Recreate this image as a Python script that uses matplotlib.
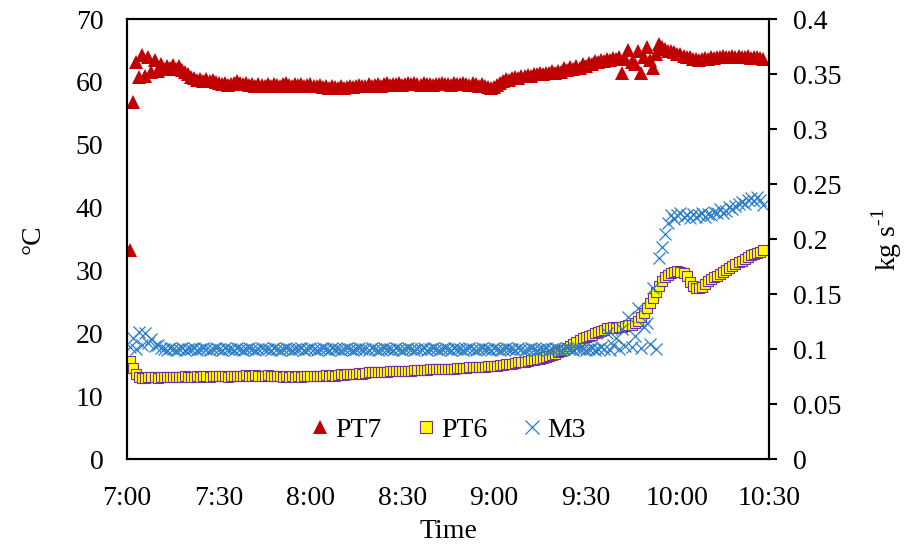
import numpy as np
import matplotlib
matplotlib.use('Agg')
from matplotlib import pyplot as plt

plt.rcParams['font.family'] = ['Liberation Serif', 'DejaVu Serif']
plt.rcParams['mathtext.fontset'] = 'custom'
plt.rcParams['mathtext.rm'] = 'Liberation Serif'

# Data: one reading per minute, starting 7:01
pt7 = [33.2, 56.8, 63.2, 60.8, 64.3, 61.0, 64.0, 61.6, 63.5, 61.8,
       62.8, 62.0, 62.6, 62.2, 62.7, 62.1, 62.5, 61.9, 61.6, 61.2,
       60.8, 60.6, 60.3, 60.5, 60.2, 60.4, 60.1, 60.3, 60.0, 59.8,
       59.6, 59.9, 59.5, 59.7, 59.9, 60.2, 59.9, 59.6, 59.8, 59.5,
       59.6, 59.4, 59.7, 59.5, 59.3, 59.6, 59.4, 59.7, 59.5, 59.3,
       59.6, 59.8, 59.5, 59.4, 59.6, 59.5, 59.7, 59.4, 59.5, 59.6,
       59.4, 59.3, 59.5, 59.2, 59.4, 59.1, 59.3, 59.2, 59.0, 59.3,
       59.1, 59.2, 59.4, 59.2, 59.3, 59.5, 59.3, 59.4, 59.6, 59.4,
       59.5, 59.7, 59.4, 59.6, 59.8, 59.5, 59.7, 59.6, 59.8, 59.5,
       59.7, 59.9, 59.6, 59.8, 59.7, 59.5, 59.8, 59.6, 59.7, 59.5,
       59.7, 59.6, 59.8, 59.6, 59.7, 59.5, 59.8, 59.7, 59.6, 59.9,
       59.7, 59.5, 59.8, 59.6, 59.4, 59.6, 59.3, 59.2, 59.0, 59.2,
       59.5, 59.9, 60.2, 60.4, 60.3, 60.6, 60.8, 60.7, 61.0, 60.9,
       61.1, 61.0, 61.3, 61.2, 61.4, 61.3, 61.5, 61.4, 61.7, 61.5,
       61.8, 61.6, 62.2, 61.9, 62.4, 62.1, 62.6, 62.3, 62.9, 62.6,
       63.0, 62.8, 63.3, 63.1, 63.5, 63.3, 63.7, 63.5, 63.8, 63.6,
       64.0, 61.5, 63.6, 65.1, 63.2, 62.8, 65.0, 61.4, 64.0, 65.5,
       63.5, 62.3, 64.5, 66.0, 65.5, 65.3, 65.0, 64.9, 64.7, 64.5,
       64.4, 64.2, 64.0, 63.9, 63.7, 63.6, 63.5, 63.6, 63.8, 63.7,
       63.9, 63.8, 64.0, 63.9, 64.1, 64.0, 63.9, 64.1, 64.0, 64.2,
       64.0, 63.9, 64.1, 63.8, 63.9, 64.0, 63.8, 63.6]

pt6 = [15.6, 14.5, 13.5, 13.0, 12.9, 12.9, 13.0, 13.1, 13.0, 12.9,
       13.0, 13.1, 13.0, 13.1, 13.0, 13.1, 13.0, 13.1, 13.2, 13.1,
       13.0, 13.1, 13.2, 13.1, 13.2, 13.2, 13.1, 13.2, 13.3, 13.2,
       13.3, 13.2, 13.1, 13.2, 13.3, 13.3, 13.2, 13.3, 13.4, 13.3,
       13.3, 13.4, 13.3, 13.2, 13.3, 13.4, 13.3, 13.2, 13.3, 13.2,
       13.1, 13.2, 13.1, 13.2, 13.1, 13.2, 13.1, 13.2, 13.3, 13.2,
       13.2, 13.3, 13.2, 13.3, 13.4, 13.3, 13.4, 13.3, 13.4, 13.5,
       13.4, 13.5, 13.6, 13.5, 13.6, 13.7, 13.6, 13.7, 13.8, 13.9,
       13.8, 13.8, 13.9, 13.9, 13.9, 14.0, 14.0, 14.0, 14.0, 14.1,
       14.1, 14.1, 14.1, 14.2, 14.2, 14.2, 14.2, 14.2, 14.3, 14.3,
       14.3, 14.3, 14.3, 14.4, 14.4, 14.4, 14.4, 14.5, 14.5, 14.5,
       14.5, 14.6, 14.6, 14.6, 14.7, 14.7, 14.7, 14.8, 14.8, 14.9,
       14.9, 15.0, 15.0, 15.1, 15.2, 15.2, 15.3, 15.4, 15.5, 15.5,
       15.6, 15.7, 15.8, 15.9, 16.0, 16.1, 16.3, 16.4, 16.6, 16.8,
       17.0, 17.2, 17.4, 17.7, 18.0, 18.3, 18.6, 18.9, 19.2, 19.4,
       19.6, 19.8, 20.0, 20.2, 20.4, 20.6, 20.8, 20.9, 21.0, 20.9,
       21.1, 21.0, 21.2, 21.4, 21.3, 21.6, 22.0, 22.6, 23.2, 24.0,
       24.8, 25.6, 26.6, 27.6, 28.4, 28.9, 29.3, 29.6, 29.8, 29.9,
       29.8, 29.6, 29.2, 28.2, 27.6, 27.3, 27.2, 27.4, 27.8, 28.3,
       28.6, 28.9, 29.2, 29.5, 29.8, 30.1, 30.4, 30.7, 31.0, 31.3,
       31.6, 31.9, 32.2, 32.4, 32.6, 32.8, 33.0, 33.2]

m3 = [0.102, 0.110, 0.100, 0.116, 0.104, 0.115, 0.106, 0.109, 0.103, 0.104,
      0.101, 0.100, 0.099, 0.101, 0.100, 0.099, 0.100, 0.101, 0.099, 0.100,
      0.100, 0.101, 0.099, 0.100, 0.101, 0.100, 0.099, 0.100, 0.101, 0.100,
      0.099, 0.101, 0.100, 0.100, 0.099, 0.101, 0.100, 0.099, 0.100, 0.101,
      0.100, 0.099, 0.100, 0.101, 0.100, 0.100, 0.099, 0.101, 0.100, 0.099,
      0.100, 0.101, 0.100, 0.099, 0.100, 0.100, 0.101, 0.099, 0.100, 0.101,
      0.100, 0.099, 0.100, 0.101, 0.100, 0.099, 0.101, 0.100, 0.100, 0.099,
      0.100, 0.101, 0.100, 0.099, 0.100, 0.101, 0.100, 0.100, 0.099, 0.101,
      0.100, 0.099, 0.100, 0.101, 0.100, 0.100, 0.099, 0.101, 0.100, 0.099,
      0.100, 0.101, 0.100, 0.099, 0.100, 0.100, 0.101, 0.099, 0.100, 0.101,
      0.100, 0.099, 0.100, 0.101, 0.100, 0.099, 0.101, 0.100, 0.100, 0.099,
      0.100, 0.101, 0.100, 0.099, 0.100, 0.101, 0.100, 0.100, 0.099, 0.101,
      0.100, 0.099, 0.100, 0.101, 0.100, 0.100, 0.099, 0.101, 0.100, 0.099,
      0.100, 0.101, 0.100, 0.099, 0.100, 0.100, 0.101, 0.099, 0.100, 0.101,
      0.100, 0.099, 0.100, 0.101, 0.100, 0.099, 0.101, 0.100, 0.100, 0.099,
      0.100, 0.101, 0.099, 0.100, 0.102, 0.100, 0.115, 0.099, 0.104, 0.110,
      0.100, 0.118, 0.103, 0.129, 0.102, 0.112, 0.137, 0.101, 0.120, 0.124,
      0.105, 0.156, 0.100, 0.183, 0.193, 0.205, 0.215, 0.222, 0.218, 0.222,
      0.224, 0.220, 0.222, 0.219, 0.223, 0.220, 0.222, 0.224, 0.220, 0.223,
      0.222, 0.225, 0.224, 0.227, 0.224, 0.226, 0.229, 0.227, 0.230, 0.232,
      0.234, 0.232, 0.236, 0.237, 0.235, 0.238, 0.236, 0.231]

x_ticks = [0, 30, 60, 90, 120, 150, 180, 210]
x_labels = ['7:00', '7:30', '8:00', '8:30', '9:00', '9:30', '10:00', '10:30']

t7 = np.arange(1, len(pt7) + 1)
t6 = np.arange(1, len(pt6) + 1)
tm = np.arange(1, len(m3) + 1)

fs = 20
fig = plt.figure(figsize=(9.07, 5.46), dpi=100)
ax = fig.add_axes([0.140, 0.159, 0.708, 0.806])
ax2 = ax.twinx()

h7, = ax.plot(t7, pt7, linestyle='none', marker='^', markersize=9.5,
              color='#C00000', markeredgewidth=0, label='PT7')
h6, = ax.plot(t6, pt6, linestyle='none', marker='s', markersize=7.5,
              markerfacecolor='#FFFF00', markeredgecolor='#7030A0',
              markeredgewidth=0.8, label='PT6')
hm, = ax2.plot(tm, m3, linestyle='none', marker='x', markersize=9,
               color='#2A7DC8', markeredgewidth=0.9, label='M3')

ax.set_xlim(0, 210)
ax.set_ylim(0, 70)
ax2.set_ylim(0, 0.4)
ax.set_xticks(x_ticks)
ax.set_xticklabels(x_labels)
ax.set_yticks(range(0, 71, 10))
ax2.set_yticks([0, 0.05, 0.1, 0.15, 0.2, 0.25, 0.3, 0.35, 0.4])
ax2.set_yticklabels(['0', '0.05', '0.1', '0.15', '0.2', '0.25', '0.3', '0.35', '0.4'])

ax.tick_params(axis='y', length=0, pad=17, labelsize=fs)
ax.tick_params(axis='x', length=0, pad=19, labelsize=fs)
ax2.tick_params(axis='y', direction='out', length=6, width=1.5, pad=11, labelsize=fs)

for a in (ax, ax2):
    for s in a.spines.values():
        s.set_linewidth(1.5)
        s.set_color('black')

ax.set_xlabel('Time', fontsize=fs, labelpad=6)
ax.set_ylabel('°C', fontsize=fs, labelpad=22)
ax2.set_ylabel(r'kg s$^{\text{-}1}$', fontsize=fs, labelpad=20)

ax2.legend([h7, h6, hm], ['PT7', 'PT6', 'M3'], loc='center',
           bbox_to_anchor=(0.495, 0.212), bbox_transform=fig.transFigure,
           ncol=3, frameon=False, fontsize=fs, handlelength=0.6,
           handletextpad=0.25, columnspacing=1.3, markerscale=1.1)

fig.savefig('out.png', dpi=100)
